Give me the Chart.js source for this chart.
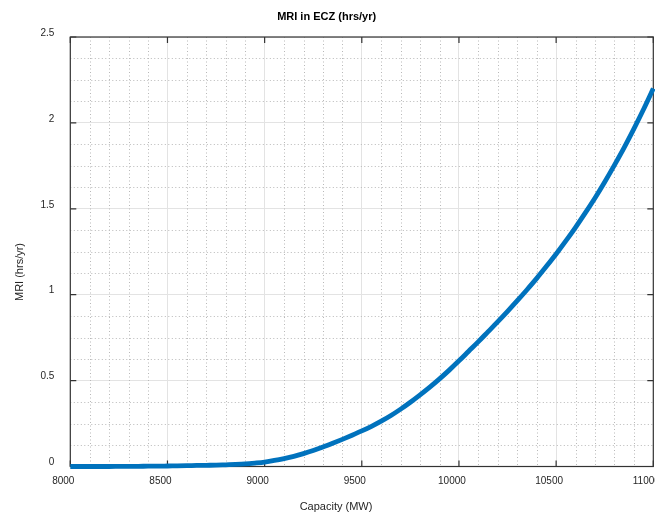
<!DOCTYPE html>
<html>
<head>
<meta charset="utf-8">
<script src="https://cdn.jsdelivr.net/npm/chart.js@4"></script>
<style>
  html, body { margin: 0; padding: 0; background: #fff; }
  #wrap { width: 655px; height: 514px; }
</style>
</head>
<body>
<div id="wrap"><canvas id="mri"></canvas></div>
<script>
// capacity (MW) and MRI (hrs/yr), every 50 MW
const capacity = [
  8000, 8050, 8100, 8150, 8200, 8250, 8300, 8350, 8400, 8450,
  8500, 8550, 8600, 8650, 8700, 8750, 8800, 8850, 8900, 8950,
  9000, 9050, 9100, 9150, 9200, 9250, 9300, 9350, 9400, 9450,
  9500, 9550, 9600, 9650, 9700, 9750, 9800, 9850, 9900, 9950,
  10000, 10050, 10100, 10150, 10200, 10250, 10300, 10350, 10400, 10450,
  10500, 10550, 10600, 10650, 10700, 10750, 10800, 10850, 10900, 10950,
  11000
];
const mri = [
  0, 0, 0, 0, 0, 0.0005, 0.001, 0.001, 0.002, 0.002,
  0.003, 0.004, 0.005, 0.006, 0.007, 0.008, 0.010, 0.012, 0.015, 0.020,
  0.026, 0.035, 0.046, 0.059, 0.075, 0.093, 0.113, 0.135, 0.158, 0.182,
  0.207, 0.234, 0.264, 0.297, 0.334, 0.374, 0.417, 0.462, 0.510, 0.561,
  0.615, 0.671, 0.727, 0.785, 0.843, 0.903, 0.965, 1.029, 1.095, 1.165,
  1.237, 1.313, 1.392, 1.476, 1.563, 1.656, 1.754, 1.856, 1.965, 2.079,
  2.200
];
const xTicks = [8000, 8500, 9000, 9500, 10000, 10500, 11000];
const yTicks = [0, 0.5, 1, 1.5, 2, 2.5];
const xMinor = [8100, 8200, 8300, 8400, 8600, 8700, 8800, 8900, 9100, 9200, 9300, 9400,
  9600, 9700, 9800, 9900, 10100, 10200, 10300, 10400, 10600, 10700, 10800, 10900];
const yMinor = [0.125, 0.25, 0.375, 0.625, 0.75, 0.875, 1.125, 1.25, 1.375,
  1.625, 1.75, 1.875, 2.125, 2.25, 2.375];

const FONT = 'Liberation Sans, Arial, sans-serif';
const AXIS = '#333333';

// dotted minor grid, box, inner ticks and axis titles
const matlabAxes = {
  id: 'matlabAxes',
  beforeDatasetsDraw(chart) {
    const { ctx, chartArea: a, scales: { x, y } } = chart;
    ctx.save();
    ctx.strokeStyle = '#b8b8b8';
    ctx.lineWidth = 1;
    ctx.setLineDash([1, 2.5]);
    xMinor.forEach(v => {
      const px = Math.round(x.getPixelForValue(v)) + 0.5;
      ctx.beginPath(); ctx.moveTo(px, a.top); ctx.lineTo(px, a.bottom); ctx.stroke();
    });
    yMinor.forEach(v => {
      const py = Math.round(y.getPixelForValue(v)) + 0.5;
      ctx.beginPath(); ctx.moveTo(a.left, py); ctx.lineTo(a.right, py); ctx.stroke();
    });
    ctx.setLineDash([]);
    ctx.strokeStyle = AXIS;
    ctx.lineWidth = 1.2;
    ctx.strokeRect(a.left, a.top, a.right - a.left, a.bottom - a.top);
    xTicks.forEach(v => {
      const px = x.getPixelForValue(v);
      ctx.beginPath();
      ctx.moveTo(px, a.bottom); ctx.lineTo(px, a.bottom - 6);
      ctx.moveTo(px, a.top); ctx.lineTo(px, a.top + 6);
      ctx.stroke();
    });
    yTicks.forEach(v => {
      const py = y.getPixelForValue(v);
      ctx.beginPath();
      ctx.moveTo(a.left, py); ctx.lineTo(a.left + 6, py);
      ctx.moveTo(a.right, py); ctx.lineTo(a.right - 6, py);
      ctx.stroke();
    });
    ctx.restore();
  },
  afterDraw(chart) {
    const { ctx } = chart;
    ctx.save();
    ctx.fillStyle = '#262626';
    ctx.font = '11px ' + FONT;
    ctx.textAlign = 'center';
    ctx.textBaseline = 'middle';
    ctx.fillText('Capacity (MW)', 336, 507);
    ctx.translate(20, 272);
    ctx.rotate(-Math.PI / 2);
    ctx.fillText('MRI (hrs/yr)', 0, 0);
    ctx.restore();
  }
};

new Chart(document.getElementById('mri'), {
  type: 'line',
  data: {
    datasets: [{
      data: capacity.map((c, i) => ({ x: c, y: mri[i] })),
      borderColor: '#0072BD',
      backgroundColor: '#0072BD',
      borderWidth: 4.8,
      pointRadius: 0,
      cubicInterpolationMode: 'monotone',
      clip: false
    }]
  },
  options: {
    responsive: true,
    maintainAspectRatio: false,
    animation: false,
    layout: { padding: { left: 0, right: 1.7, top: 0, bottom: 0 } },
    plugins: {
      legend: { display: false },
      tooltip: { enabled: false },
      title: {
        display: true,
        text: 'MRI in ECZ (hrs/yr)',
        color: '#000',
        font: { family: FONT, size: 11, weight: 'bold' },
        padding: { top: 10, bottom: 13.8 }
      }
    },
    scales: {
      x: {
        type: 'linear',
        min: 8000,
        max: 11000,
        afterBuildTicks: s => { s.ticks = xTicks.map(v => ({ value: v })); },
        afterFit: s => { s.height = 47.5; s.paddingLeft = 0; s.paddingRight = 0; },
        grid: { color: '#e3e3e3', lineWidth: 1, drawTicks: false },
        border: { display: false },
        ticks: {
          color: '#262626',
          font: { family: FONT, size: 10 },
          padding: 9,
          labelOffset: -7,
          maxRotation: 0,
          autoSkip: false,
          callback: v => String(v)
        }
      },
      y: {
        type: 'linear',
        min: 0,
        max: 2.5,
        afterBuildTicks: s => { s.ticks = yTicks.map(v => ({ value: v })); },
        afterFit: s => { s.width = 70.3; s.paddingTop = 0; s.paddingBottom = 0; },
        grid: { color: '#e3e3e3', lineWidth: 1, drawTicks: false },
        border: { display: false },
        ticks: {
          color: '#262626',
          font: { family: FONT, size: 10 },
          padding: 16,
          labelOffset: -4,
          autoSkip: false,
          callback: v => String(v)
        }
      }
    }
  },
  plugins: [matlabAxes]
});
</script>
</body>
</html>
